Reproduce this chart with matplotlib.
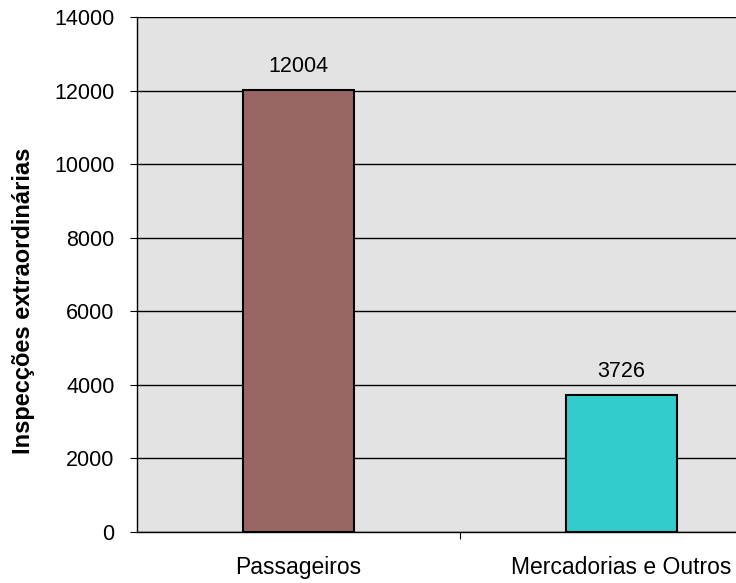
import numpy as np
import matplotlib
matplotlib.use("Agg")
import matplotlib.pyplot as plt

# dados
categorias = ["Passageiros", "Mercadorias e Outros"]
valores = [12004, 3726]
cores = ["#996666", "#33CCCC"]
yticks = [0, 2000, 4000, 6000, 8000, 10000, 12000, 14000]

plt.rcParams['font.family'] = ['Liberation Sans', 'DejaVu Sans']

fig = plt.figure(figsize=(7.36, 5.83), dpi=100)
# o eixo continua para além da margem direita da imagem (recortado)
ax = fig.add_axes([0.186, 0.0875, 0.878, 0.8834])
ax.set_facecolor("#E3E3E3")

x = np.arange(len(categorias))
ax.bar(x, valores, width=0.344, color=cores, edgecolor="black", linewidth=1.5, zorder=3)

for xi, v in zip(x, valores):
    ax.annotate(str(v), (xi, v), xytext=(0, 9.5), textcoords="offset points",
                ha="center", va="bottom", fontsize=15.5)

ax.set_xlim(-0.5, 1.5)
ax.set_ylim(0, 14000)
ax.set_yticks(yticks)
ax.set_yticklabels([str(t) for t in yticks], fontsize=15.5)
ax.yaxis.grid(True, color="black", linewidth=1, zorder=0)
ax.set_axisbelow(True)

ax.set_xticks([0.5, 1.5])
ax.set_xticklabels([])
ax.set_xticks(x, minor=True)
ax.set_xticklabels(categorias, minor=True, fontsize=16.5)
ax.tick_params(axis="x", which="minor", length=0, pad=17)
ax.tick_params(axis="x", which="major", length=5, direction="out")
ax.tick_params(axis="y", length=5, direction="out", pad=11)

ax.set_ylabel("Inspecções extraordinárias", fontsize=17, fontweight="bold")
ax.yaxis.set_label_coords(-0.158, 0.449)

for s in ["top", "right"]:
    ax.spines[s].set_visible(False)
ax.spines["left"].set_linewidth(1)
ax.spines["bottom"].set_linewidth(1)

fig.savefig("out.png", dpi=100, facecolor="white")
